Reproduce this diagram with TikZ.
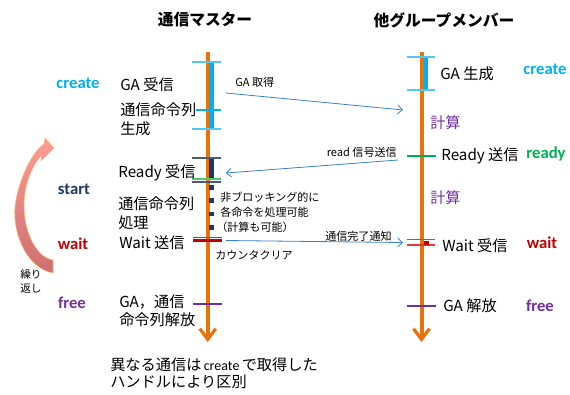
\documentclass[tikz,border=0pt]{standalone}
\usepackage{fontspec}
\setmainfont{Noto Sans CJK JP}
\newfontfamily\calfont{Carlito}
\usetikzlibrary{arrows.meta}
\definecolor{tlorange}{HTML}{E8720C}
\definecolor{cyanA}{HTML}{00B0F0}
\definecolor{cyanT}{HTML}{55C6F2}
\definecolor{navyA}{HTML}{203864}
\definecolor{navyT}{HTML}{4A5A78}
\definecolor{greenA}{HTML}{00B050}
\definecolor{greenT}{HTML}{4CCB6E}
\definecolor{redA}{HTML}{C00000}
\definecolor{redT}{HTML}{E03A3A}
\definecolor{purpA}{HTML}{7030A0}
\definecolor{msgblue}{HTML}{3A7FC8}
\definecolor{loopTop}{HTML}{FF9A94}
\definecolor{loopBot}{HTML}{CC7070}
\begin{document}
\begin{tikzpicture}[x=0.75pt,y=-0.75pt,
  lbl/.style={anchor=west,inner sep=0pt,font=\fontsize{11.4}{13}\selectfont},
  small/.style={anchor=west,inner sep=0pt,font=\fontsize{8.3}{10}\selectfont},
  tag/.style={inner sep=0pt,font=\calfont\bfseries\fontsize{12.5}{14}\selectfont},
  ttl/.style={inner sep=0pt,font=\bfseries\fontsize{11.8}{14}\selectfont},
  tline/.style={draw=tlorange,line width=3pt,-{Straight Barb[length=8pt,width=12pt,line width=2.4pt]}},
  tick/.style={line width=1.1pt},
  thick tick/.style={line width=2.2pt},
  msg/.style={draw=msgblue,line width=0.6pt,-{Straight Barb[length=3.5pt,width=6.5pt]}}
]
\useasboundingbox[fill=white] (0,0) rectangle (570,394);

% titles
\node[ttl] (t1) at (205,20) {通信マスター};
\node[ttl] (t2) at (444,20) {他グループメンバー};

% timelines
\coordinate (mtop) at (207.7,52);
\coordinate (mbot) at (207.7,342);
\coordinate (otop) at (421.5,52);
\coordinate (obot) at (421.5,342);
\draw[tline] (mtop) -- (mbot);
\draw[tline] (otop) -- (obot);

% master: create
\fill[cyanA] (209.3,62) rectangle (214,129);
\draw[tick,cyanT] (192,62) -- (221,62);
\draw[tick,cyanA] (196,110) -- (221,110);
\draw[tick,cyanT] (192,129) -- (221,129);
% master: start
\fill[navyA] (209.3,158) rectangle (214,178);
\draw[tick,navyT] (192,158) -- (221,158);
\draw[tick,greenT] (192,179) -- (221,179);
\draw[tick,navyT] (192,182) -- (221,182);
\draw[navyA,line width=3.4pt,dash pattern=on 3.5pt off 6.5pt] (211.6,185) -- (211.6,238);
% master: wait
\draw[tick,navyT] (193,237.5) -- (222,237.5);
\draw[line width=1.6pt,redA] (193,240.5) -- (222,240.5);
% master: free
\draw[thick tick,purpA] (193,304) -- (222,304);

% other: create
\fill[cyanA] (423.5,57) rectangle (428.2,90);
\draw[tick,cyanT] (407,57) -- (435,57);
\draw[tick,cyanT] (407,90) -- (435,90);
% other: ready
\draw[thick tick,greenA] (407,156) -- (436,156);
% other: wait
\draw[line width=0.8pt,redT] (407,239.5) -- (435,239.5);
\draw[line width=0.8pt,redT] (407,245) -- (435,245);
\fill[redA] (424,240.5) rectangle (428.5,244.5);
% other: free
\draw[thick tick,purpA] (407,306) -- (436,306);

% master labels
\node[lbl] (m1) at (120,85) {GA 受信};
\node[lbl] (m2a) at (120,110) {通信命令列};
\node[lbl] (m2b) at (120,129) {生成};
\node[lbl] (m3) at (118,173) {Ready 受信};
\node[lbl] (m4a) at (118,204) {通信命令列};
\node[lbl] (m4b) at (118,223) {処理};
\node[lbl] (m5) at (119,243) {Wait 送信};
\node[small] (m6) at (215,255) {カウンタクリア};
\node[lbl] (m7a) at (119,302) {GA，通信};
\node[lbl] (m7b) at (119,320) {命令列解放};
\node[small] (nb1) at (220,197) {非ブロッキング的に};
\node[small] (nb2) at (220,212) {各命令を処理可能};
\node[small] (nb3) at (216,227) {（計算も可能）};

% bottom note
\node[lbl] (n1) at (110,365) {異なる通信は{\calfont\fontsize{10.5}{13}\selectfont\,create\,}で取得した};
\node[lbl] (n2) at (110,382) {ハンドルにより区別};

% other labels
\node[lbl] (o1) at (440,74) {GA 生成};
\node[lbl,text=purpA] (o2) at (430,123) {計算};
\node[lbl] (o3) at (441,156) {Ready 送信};
\node[lbl,text=purpA] (o4) at (430,198) {計算};
\node[lbl] (o5) at (442,246) {Wait 受信};
\node[lbl] (o6) at (443,306) {GA 解放};

% left tags
\node[tag,text=cyanA] (lc) at (78,83) {create};
\node[tag,text=navyA] (ls) at (74,189) {start};
\node[tag,text=redA] (lw) at (73,244) {wait};
\node[tag,text=purpA] (lf) at (72,303) {free};
% right tags
\node[tag,text=cyanA] (rc) at (545,69) {create};
\node[tag,text=greenA] (rr) at (546,154) {ready};
\node[tag,text=redA] (rw) at (542,243) {wait};
\node[tag,text=purpA] (rf) at (540,306) {free};

% messages
\coordinate (a1s) at (226,93);
\coordinate (a1e) at (403,110);
\draw[msg] (a1s) -- (a1e);
\node[small] (l1) at (235,82) {GA 取得};
\coordinate (a2s) at (398,160);
\coordinate (a2e) at (226,173);
\draw[msg] (a2s) -- (a2e);
\node[small,anchor=east] (l2) at (397,152) {read 信号送信};
\coordinate (a3s) at (226,240.5);
\coordinate (a3e) at (403,242.5);
\draw[msg] (a3s) -- (a3e);
\node[small,anchor=base west] (l3) at (325,240) {通信完了通知};

% loop arrow
\shade[top color=loopTop,bottom color=loopBot,draw=orange!55,line width=0.4pt]
  (53,273) .. controls (25,268) and (10,228) .. (16,200)
  .. controls (20,178) and (32,152) .. (44,144)
  -- (45,138) -- (54,148) -- (41,161) -- (42,155)
  .. controls (32,165) and (24,185) .. (24,205)
  .. controls (24,235) and (38,258) .. (53,260) -- cycle;
\node[small,font=\fontsize{8}{10}\selectfont] (rp1) at (20,274) {繰り};
\node[small,font=\fontsize{8}{10}\selectfont] (rp2) at (20,289) {返し};
\end{tikzpicture}
\end{document}
